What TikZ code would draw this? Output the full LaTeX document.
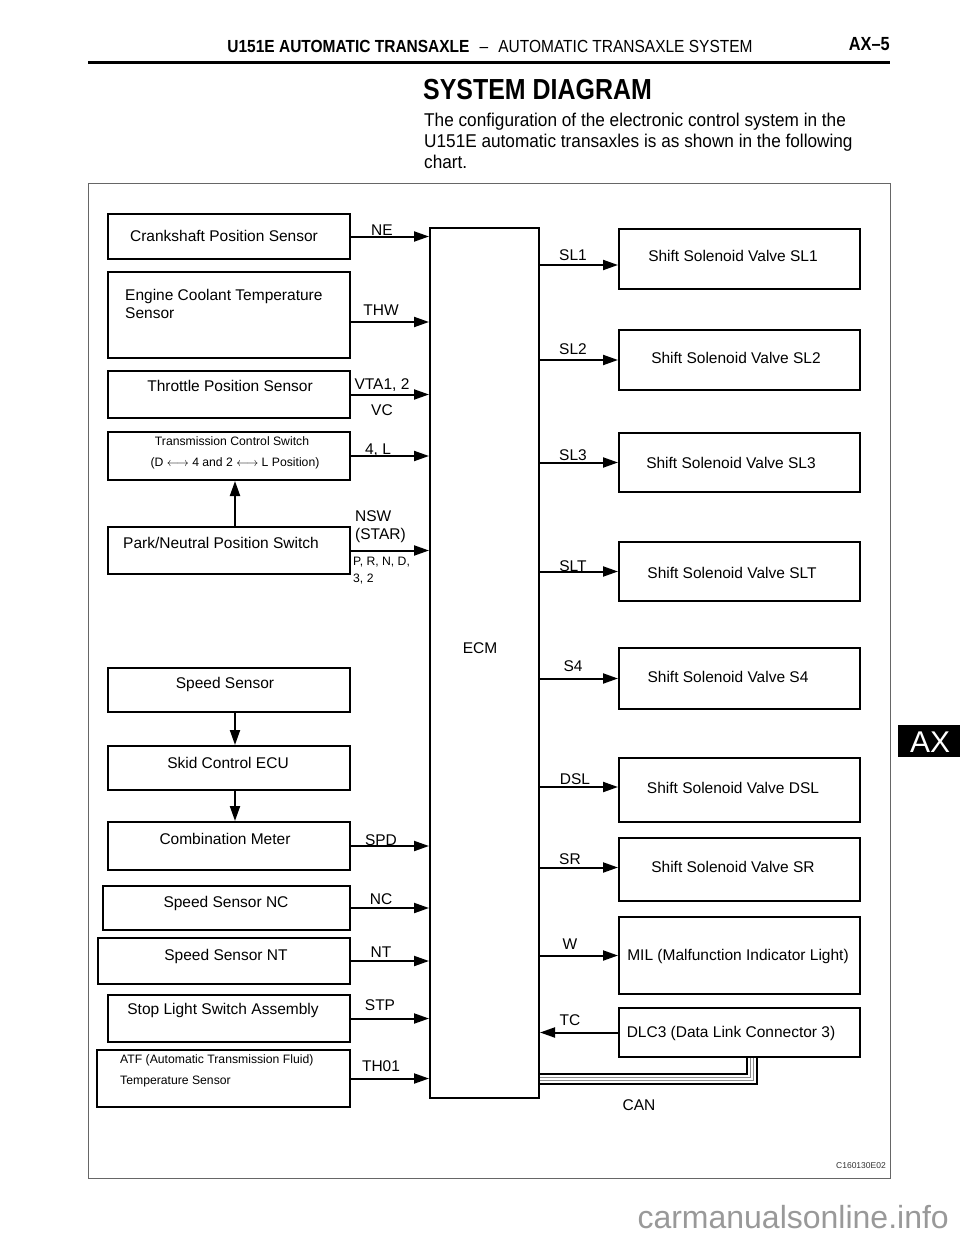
\documentclass[tikz,border=0pt]{standalone}
\usepackage{fontspec}
\setmainfont{Liberation Sans}
\newfontfamily\narrowA[FakeStretch=0.86]{Liberation Sans}
\newfontfamily\narrowB[FakeStretch=0.93]{Liberation Sans}
\newfontfamily\narrowC[FakeStretch=0.885]{Liberation Sans}
\usetikzlibrary{arrows.meta}
\tikzset{
  box/.style={draw=black, line width=2pt, rectangle, inner sep=0pt},
  txt/.style={font=\fontsize{15.5}{18.5}\selectfont, inner sep=0pt},
  small/.style={font=\fontsize{12.2}{14}\selectfont, inner sep=0pt},
  sig/.style={font=\fontsize{15.5}{18.5}\selectfont, inner sep=0pt},
  arr/.style={line width=2pt, -{Triangle[length=15pt,width=10pt]}},
  canline/.style={line width=2.6pt, black},
  canthin/.style={line width=0.8pt, black!45},
}
\begin{document}
\begin{tikzpicture}[x=1pt,y=-1pt]
\useasboundingbox (0,0) rectangle (960,1242);
\fill[white] (0,0) rectangle (960,1242);
% header
\node[anchor=base, inner sep=0pt, font=\narrowC\fontsize{17.5}{20}\selectfont] (hdr) at (490,52) {\textbf{U151E AUTOMATIC TRANSAXLE}\, \,–\, \,AUTOMATIC TRANSAXLE SYSTEM};
\node[anchor=base east, inner sep=0pt, font=\narrowA\bfseries\fontsize{19}{22}\selectfont] (pg) at (890,50) {AX–5};
\draw[line width=3pt] (88,62) -- (890,62);
\node[anchor=base west, inner sep=0pt, font=\narrowA\bfseries\fontsize{29}{32}\selectfont] (ttl) at (423,99) {SYSTEM DIAGRAM};
\node[anchor=base west, inner sep=0pt, font=\narrowB\fontsize{18.5}{21}\selectfont] (p1) at (424,126) {The configuration of the electronic control system in the};
\node[anchor=base west, inner sep=0pt, font=\narrowB\fontsize{18.5}{21}\selectfont] (p2) at (424,147) {U151E automatic transaxles is as shown in the following};
\node[anchor=base west, inner sep=0pt, font=\narrowB\fontsize{18.5}{21}\selectfont] (p3) at (424,168) {chart.};
% frame
\draw[black!60, line width=1pt] (88,183) rectangle (890,1178);
% AX tab
\fill[black] (898,725) rectangle (960,757);
\node[inner sep=0pt, text=white, font=\fontsize{30}{32}\selectfont] (tab) at (930,742) {AX};

% left boxes
\node[box, minimum width=242pt, minimum height=45pt] (cps) at (229,236.5) {};
\node[box, minimum width=242pt, minimum height=86pt] (ect) at (229,315) {};
\node[box, minimum width=242pt, minimum height=47pt] (tps) at (229,394.5) {};
\node[box, minimum width=242pt, minimum height=48pt] (tcs) at (229,456) {};
\node[box, minimum width=242pt, minimum height=47pt] (pnp) at (229,550.5) {};
\node[box, minimum width=242pt, minimum height=44pt] (spd) at (229,690) {};
\node[box, minimum width=242pt, minimum height=44pt] (skid) at (229,768) {};
\node[box, minimum width=242pt, minimum height=48pt] (comb) at (229,846) {};
\node[box, minimum width=247pt, minimum height=44pt] (nc) at (226.5,908) {};
\node[box, minimum width=252pt, minimum height=46pt] (nt) at (224,961) {};
\node[box, minimum width=242pt, minimum height=47pt] (stp) at (229,1018.5) {};
\node[box, minimum width=253pt, minimum height=57pt] (atf) at (223.5,1078.5) {};
% ECM
\node[box, minimum width=109pt, minimum height=870pt] (ecm) at (484.5,663) {};
\node[txt] (ecmt) at (480,648) {ECM};
% right boxes
\node[box, minimum width=241pt, minimum height=60pt] (sl1) at (739.5,259) {};
\node[box, minimum width=241pt, minimum height=60pt] (sl2) at (739.5,360) {};
\node[box, minimum width=241pt, minimum height=59pt] (sl3) at (739.5,462.5) {};
\node[box, minimum width=241pt, minimum height=59pt] (slt) at (739.5,571.5) {};
\node[box, minimum width=241pt, minimum height=61pt] (s4) at (739.5,678.5) {};
\node[box, minimum width=241pt, minimum height=64pt] (dsl) at (739.5,790) {};
\node[box, minimum width=241pt, minimum height=63pt] (sr) at (739.5,869.5) {};
\node[box, minimum width=241pt, minimum height=77pt] (mil) at (739.5,955.5) {};
\node[box, minimum width=241pt, minimum height=49pt] (dlc) at (739.5,1032.5) {};

% left texts
\node[txt] (cpst) at (224,236) {Crankshaft Position Sensor};
\node[txt, anchor=west, align=left] (ectt) at (125,304) {Engine Coolant Temperature\\Sensor};
\node[txt] (tpst) at (230,386) {Throttle Position Sensor};
\node[small] (tcst1) at (232,441) {Transmission Control Switch};
\node[small] (tcst2) at (235,463) {(D $\longleftrightarrow$ 4 and 2 $\longleftrightarrow$ L Position)};
\node[txt] (pnpt) at (221,543) {Park/Neutral Position Switch};
\node[txt] (spdt) at (225,684) {Speed Sensor};
\node[txt] (skidt) at (228,763) {Skid Control ECU};
\node[txt] (combt) at (225,839) {Combination Meter};
\node[txt] (nct) at (226,903) {Speed Sensor NC};
\node[txt] (ntt) at (226,956) {Speed Sensor NT};
\node[txt] (stpt) at (223,1010) {Stop Light Switch Assembly};
\node[small, anchor=west] (atft1) at (120,1060) {ATF (Automatic Transmission Fluid)};
\node[small, anchor=west] (atft2) at (120,1081) {Temperature Sensor};

% right texts
\node[txt] (sl1t) at (733,256) {Shift Solenoid Valve SL1};
\node[txt] (sl2t) at (736,358) {Shift Solenoid Valve SL2};
\node[txt] (sl3t) at (731,463) {Shift Solenoid Valve SL3};
\node[txt] (sltt) at (732,573) {Shift Solenoid Valve SLT};
\node[txt] (s4t) at (728,677) {Shift Solenoid Valve S4};
\node[txt] (dslt) at (733,788) {Shift Solenoid Valve DSL};
\node[txt] (srt) at (733,867) {Shift Solenoid Valve SR};
\node[txt] (milt) at (738,956) {MIL (Malfunction Indicator Light)};
\node[txt] (dlct) at (731,1033) {DLC3 (Data Link Connector 3)};

% vertical arrows
\draw[arr] ([xshift=6pt]pnp.north) -- ([xshift=6pt]tcs.south);
\draw[arr] ([xshift=6pt]spd.south) -- ([xshift=6pt]skid.north);
\draw[arr] ([xshift=6pt]skid.south) -- ([xshift=6pt]comb.north);

% input arrows
\coordinate (ectp) at ([yshift=-7pt]ect.east);
\draw[arr] (cps.east) -- (ecm.west |- cps.east);
\draw[arr] (ectp) -- (ecm.west |- ectp);
\draw[arr] (tps.east) -- (ecm.west |- tps.east);
\draw[arr] (tcs.east) -- (ecm.west |- tcs.east);
\draw[arr] (pnp.east) -- (ecm.west |- pnp.east);
\draw[arr] (comb.east) -- (ecm.west |- comb.east);
\draw[arr] (nc.east) -- (ecm.west |- nc.east);
\draw[arr] (nt.east) -- (ecm.west |- nt.east);
\draw[arr] (stp.east) -- (ecm.west |- stp.east);
\draw[arr] (atf.east) -- (ecm.west |- atf.east);

% input labels
\node[sig] (lne) at (382,230) {NE};
\node[sig] (lthw) at (381,310) {THW};
\node[sig] (lvta) at (382,385) {VTA1, 2};
\node[sig] (lvc) at (382,410) {VC};
\node[sig] (l4l) at (378,450) {4, L};
\node[sig, anchor=west] (lnsw) at (355,516) {NSW};
\node[sig, anchor=west] (lstar) at (355,535) {(STAR)};
\node[small, anchor=west] (lprnd) at (353,562) {P, R, N, D,};
\node[small, anchor=west] (l32) at (353,579) {3, 2};
\node[sig] (lspd) at (381,840) {SPD};
\node[sig] (lnc) at (381,899) {NC};
\node[sig] (lnt) at (381,952) {NT};
\node[sig] (lstp) at (380,1005) {STP};
\node[sig] (lth) at (381,1066) {TH01};

% output arrows
\coordinate (sl1p) at ([yshift=-6pt]sl1.west);
\coordinate (dslp) at ([yshift=3pt]dsl.west);
\coordinate (srp) at ([yshift=2pt]sr.west);
\draw[arr] (ecm.east |- sl1p) -- (sl1p);
\draw[arr] (ecm.east |- sl2.west) -- (sl2.west);
\draw[arr] (ecm.east |- sl3.west) -- (sl3.west);
\draw[arr] (ecm.east |- slt.west) -- (slt.west);
\draw[arr] (ecm.east |- s4.west) -- (s4.west);
\draw[arr] (ecm.east |- dslp) -- (dslp);
\draw[arr] (ecm.east |- srp) -- (srp);
\draw[arr] (ecm.east |- mil.west) -- (mil.west);
\draw[arr] (dlc.west) -- (ecm.east |- dlc.west);

% output labels
\node[sig] (lsl1) at (573,255) {SL1};
\node[sig] (lsl2) at (573,349) {SL2};
\node[sig] (lsl3) at (573,455) {SL3};
\node[sig] (lslt) at (573,566) {SLT};
\node[sig] (ls4) at (573,666) {S4};
\node[sig] (ldsl) at (575,779) {DSL};
\node[sig] (lsr) at (570,859) {SR};
\node[sig] (lw) at (570,944) {W};
\node[sig] (ltc) at (570,1020) {TC};

% CAN bus
\coordinate (cana) at (747,1074);
\coordinate (canb) at (750.5,1077.5);
\coordinate (canc) at (753.5,1080.5);
\coordinate (cand) at (757,1084);
\draw[canthin] (ecm.east |- canb) -- (canb) -- (canb |- dlc.south);
\draw[canthin] (ecm.east |- canc) -- (canc) -- (canc |- dlc.south);
\draw[canline] (ecm.east |- cana) -- (cana) -- (cana |- dlc.south);
\draw[canline] (ecm.east |- cand) -- (cand) -- (cand |- dlc.south);
\node[sig] (lcan) at (639,1105) {CAN};

% code
\node[anchor=east, inner sep=0pt, font=\fontsize{8.5}{10}\selectfont, text=black!80] (code) at (886,1166) {C160130E02};
% watermark
\node[anchor=base east, inner sep=0pt, text=black!40, font=\fontsize{32}{36}\selectfont] (wm) at (949,1228) {carmanualsonline.info};
\end{tikzpicture}
\end{document}
